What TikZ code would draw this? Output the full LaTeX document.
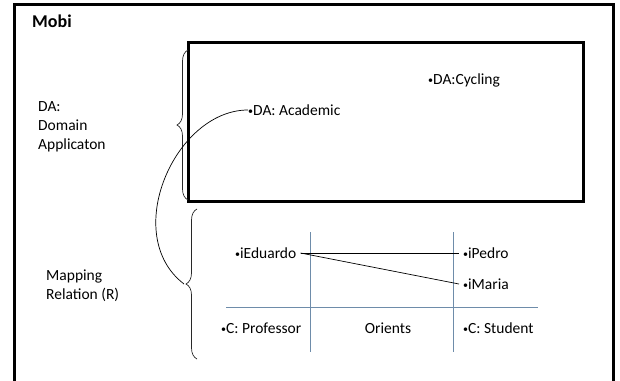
\documentclass[tikz,border=0pt]{standalone}
\usepackage{fontspec}
\setmainfont{Carlito}
\usetikzlibrary{positioning, decorations.pathreplacing}
\definecolor{gridblue}{RGB}{110,140,170}
\definecolor{bracegray}{RGB}{40,40,40}
\newcommand{\bul}{{\fontsize{10}{10}\selectfont\raisebox{1pt}{•}}}

\begin{document}
\begin{tikzpicture}[x=1pt, y=-1pt]
    % Styles
    \tikzstyle{txt} = [anchor=west, inner sep=0pt, align=left, font=\fontsize{15.5}{19}\selectfont]
    \tikzstyle{inst} = [txt, inner xsep=4pt]
    \tikzstyle{frame} = [line width=3pt, black]
    \tikzstyle{curly} = [decorate, decoration={brace, amplitude=11pt}, bracegray, line width=0.7pt]
    \tikzstyle{grid} = [gridblue, line width=0.7pt]
    \tikzstyle{link} = [black, line width=0.7pt]

    \useasboundingbox (0,0) rectangle (620,380);

    % Frames
    \draw [frame] (14,385) |- (613,4) -- (613,385);
    \draw [frame] (188,42) rectangle (583,201);
    \node [anchor=west, inner sep=0pt, font=\fontsize{18}{20}\selectfont\bfseries] (mobi) at (32,21) {Mobi};

    % Domain applications
    \node [txt] (cycling) at (428,80) {\bul DA:Cycling};
    \node [txt] (academic) at (248,110) {\bul DA: Academic};
    \node [txt] (da) at (38,127) {DA:\\Domain\\Applicaton};
    \draw [curly] (188,200) -- (188,50) coordinate[midway, xshift=-11pt] (datip);

    % Mapping relation
    \node [txt] (mr) at (46,286) {Mapping\\Relation (R)};
    \draw [curly] (197,359) -- (197,209) coordinate[midway, xshift=-13pt] (mrtip);

    % Table
    \draw [grid] (310,232) -- (310,352);
    \draw [grid] (453,232) -- (453,352);
    \draw [grid] (226,307) -- (538,307);
    \node [inst] (eduardo) at (231,253) {\bul iEduardo};
    \node [inst] (pedro) at (459,253) {\bul iPedro};
    \node [inst] (maria) at (459,284) {\bul iMaria};
    \node [txt] (prof) at (221,328) {\bul C: Professor};
    \node [txt] (orients) at (388,328) [anchor=center] {Orients};
    \node [txt] (student) at (463,328) {\bul C: Student};

    % Connectors
    \draw [link] (academic.west) .. controls (175,110) and (120,235) .. (mrtip);
    \draw [link] (eduardo.east) -- (pedro.west);
    \draw [link] (eduardo.east) -- (maria.west);
\end{tikzpicture}
\end{document}
